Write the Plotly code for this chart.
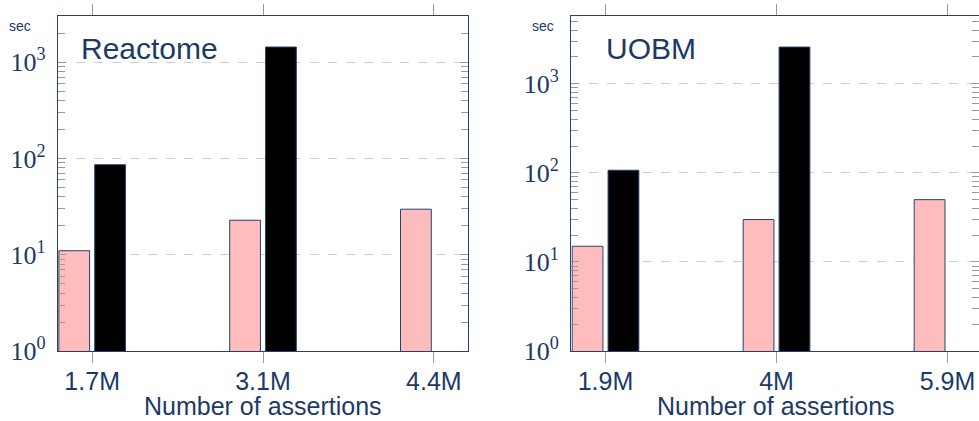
import plotly.graph_objects as go

W, H = 979, 421

# ---- data ----
react_labels = ["1.7M", "3.1M", "4.4M"]
react_pink = [11, 22.8, 29.7]
react_black = [86, 1435, None]

uobm_labels = ["1.9M", "4M", "5.9M"]
uobm_pink = [15, 29.9, 50]
uobm_black = [107, 2585, None]

ytick_vals = [1, 10, 100, 1000]
ytick_text = ["10<sup>0</sup>", "10<sup>1</sup>", "10<sup>2</sup>", "10<sup>3</sup>"]

NAVY = "#1b3a66"
LINE = "#24426f"
GRAY = "#9a9a9a"
PINK = "#ffbcbc"
SANS = "Liberation Sans, Arial, sans-serif"
SERIF = "Liberation Serif, Times New Roman, serif"

fig = go.Figure()

def add_panel(idx, labels, pink, black):
    xs = list(range(len(labels)))
    xa = "x" if idx == 1 else "x2"
    ya = "y" if idx == 1 else "y2"
    fig.add_trace(go.Bar(x=xs, y=pink, xaxis=xa, yaxis=ya, width=0.18, offset=-0.195,
                         marker=dict(color=PINK, line=dict(color=LINE, width=1)),
                         showlegend=False, hoverinfo="y"))
    fig.add_trace(go.Bar(x=xs, y=black, xaxis=xa, yaxis=ya, width=0.18, offset=0.015,
                         marker=dict(color="black", line=dict(color=LINE, width=1)),
                         showlegend=False, hoverinfo="y"))

add_panel(1, react_labels, react_pink, react_black)
add_panel(2, uobm_labels, uobm_pink, uobm_black)

ydom = [1 - 351 / H, 1 - 16 / H]

def xaxis_cfg(labels, dom, rng, anchor):
    return dict(domain=dom, range=rng, tickmode="array", tickvals=list(range(len(labels))),
                ticktext=labels, ticks="outside", ticklen=11, tickcolor=GRAY, tickwidth=1,
                showline=True, linecolor=LINE, linewidth=1.3, mirror="ticks",
                showgrid=False, zeroline=False, anchor=anchor, automargin=False,
                tickfont=dict(family=SANS, size=25, color=NAVY), ticklabelstandoff=-3)

def yaxis_cfg(top, anchor):
    return dict(domain=ydom, type="log", range=[0, top], tickmode="array",
                tickvals=ytick_vals, ticktext=ytick_text, ticks="inside", ticklen=8,
                tickcolor=GRAY, tickwidth=1, showline=True, linecolor=LINE, linewidth=1.3,
                mirror="ticks", showgrid=True, gridcolor="#cfcfcf", griddash="dash",
                gridwidth=1, zeroline=False, anchor=anchor, automargin=False,
                tickfont=dict(family=SERIF, size=26, color=NAVY), ticklabelstandoff=6,
                minor=dict(dtick="D1", ticks="inside", ticklen=7,
                           tickcolor=GRAY, tickwidth=1, showgrid=False))

fig.update_layout(
    width=W, height=H, margin=dict(l=0, r=0, t=0, b=0, pad=0),
    paper_bgcolor="white", plot_bgcolor="white", barmode="overlay",
    xaxis=xaxis_cfg(react_labels, [58 / W, 468 / W], [-0.2, 2.2], "y"),
    xaxis2=xaxis_cfg(uobm_labels, [571.3 / W, 1.0], [-0.2, 2.184], "y2"),
    yaxis=yaxis_cfg(3.479, "x"), yaxis2=yaxis_cfg(3.761, "x2"),
)

def ann(text, x, y, size, xanchor="center", yanchor="middle", yshift=0):
    fig.add_annotation(text=text, x=x / W, y=1 - y / H, xref="paper", yref="paper",
                       xanchor=xanchor, yanchor=yanchor, showarrow=False, yshift=yshift,
                       borderpad=0, font=dict(family=SANS, size=size, color=NAVY))

ann("Reactome", 80, 48, 30, "left")
ann("UOBM", 605, 48, 30, "left")
ann("sec", 20, 26, 14)
ann("sec", 543, 26, 14)
ann("Number of assertions", 263, 421, 25, yanchor="bottom")
ann("Number of assertions", 776, 421, 25, yanchor="bottom")

fig.write_html("out.html")
